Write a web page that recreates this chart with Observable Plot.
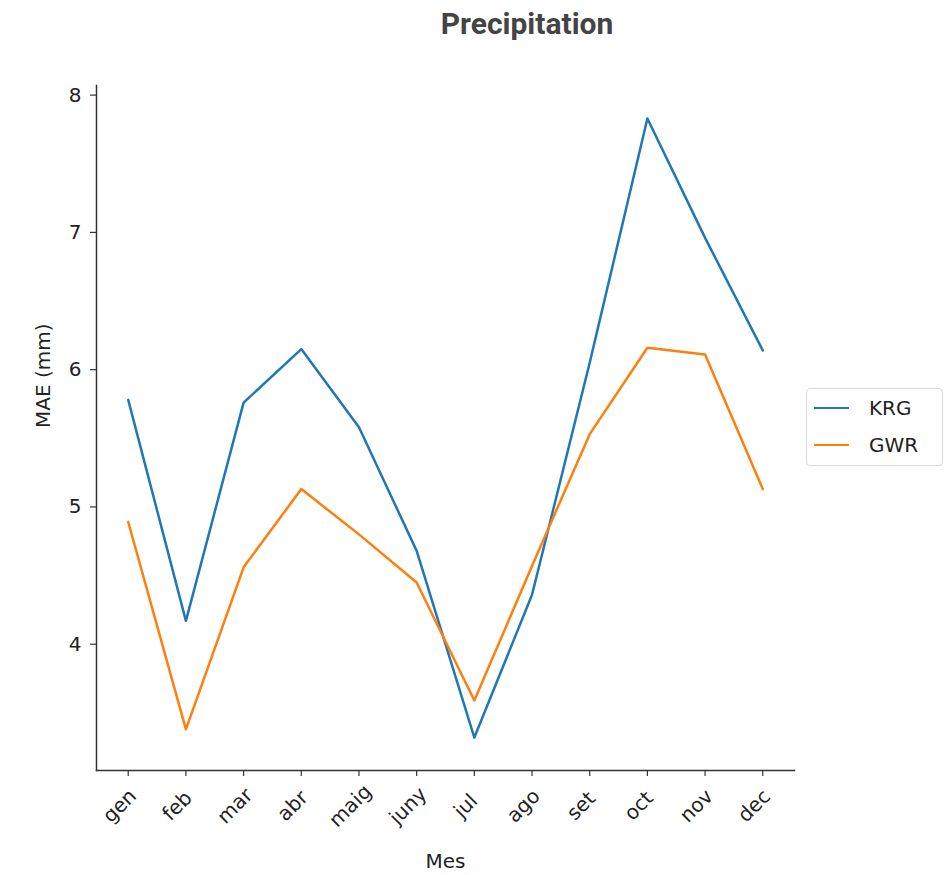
<!DOCTYPE html>
<html>
<head>
<meta charset="utf-8">
<script src="https://cdn.jsdelivr.net/npm/d3@7"></script>
<script src="https://cdn.jsdelivr.net/npm/@observablehq/plot@0.6"></script>
<style>
  html, body { margin: 0; padding: 0; background: #fff; }
  #wrap { position: relative; width: 947px; height: 875px; }
  #title { position: absolute; left: 0; top: 6px; width: 1054px; text-align: center;
           font-family: Roboto, sans-serif; font-weight: 700; font-size: 30px; color: #444; }
  #legend { position: absolute; left: 806px; top: 388px; width: 135px; height: 76px;
            border: 1px solid #d9d9d9; border-radius: 4px; background: #fff;
            font-family: "DejaVu Sans", sans-serif; font-size: 20px; color: #222; }
  .item { position: absolute; left: 7px; display: flex; align-items: center; }
  .swatch { width: 35px; height: 0; border-top: 2.5px solid; margin-right: 20px; }
</style>
</head>
<body>
<div id="wrap">
  <div id="chart"></div>
  <div id="title">Precipitation</div>
  <div id="legend"></div>
</div>
<script>
const months = ["gen","feb","mar","abr","maig","juny","jul","ago","set","oct","nov","dec"];
const seriesNames = ["KRG","GWR"];
const seriesColors = ["#1f77b4","#ff7f0e"];
const krg = [5.78, 4.17, 5.76, 6.15, 5.58, 4.68, 3.32, 4.36, 6.05, 7.83, 6.96, 6.14];
const gwr = [4.89, 3.38, 4.56, 5.13, 4.80, 4.45, 3.59, 4.57, 5.53, 6.16, 6.11, 5.13];
const yTicks = [4, 5, 6, 7, 8];
const xLabel = "Mes";
const yLabel = "MAE (mm)";

const data = [];
months.forEach((m, i) => {
  data.push({month: m, value: krg[i], series: "KRG"});
  data.push({month: m, value: gwr[i], series: "GWR"});
});

const font = "DejaVu Sans, sans-serif";
const fs = 20;
const chart = Plot.plot({
  width: 947,
  height: 875,
  marginLeft: 96,
  marginRight: 153,
  marginTop: 85,
  marginBottom: 105,
  style: {fontFamily: font, fontSize: fs + "px", color: "#222", background: "#fff"},
  x: {type: "point", domain: months, padding: 0.55, align: 0.5, round: false},
  y: {domain: [3.08, 8.07]},
  color: {domain: seriesNames, range: seriesColors},
  marks: [
    Plot.frame({anchor: "left", stroke: "#333", strokeWidth: 1.5}),
    Plot.frame({anchor: "bottom", stroke: "#333", strokeWidth: 1.5}),
    Plot.axisY({ticks: yTicks, tickFormat: d => String(d), tickSize: 6, tickPadding: 9, label: null, stroke: "#333", strokeWidth: 1.2, fontSize: fs}),
    Plot.axisX({tickSize: 6, tickFormat: () => "", label: null, stroke: "#333", strokeWidth: 1.2}),
    Plot.text(months, {x: d => d, frameAnchor: "bottom", rotate: -45, textAnchor: "middle", dy: 40, dx: -4, fontSize: fs, fill: "#222"}),
    Plot.text([xLabel], {frameAnchor: "bottom", dy: 97, fontSize: fs, fill: "#222"}),
    Plot.text([yLabel], {frameAnchor: "left", rotate: -90, dx: -53, fontSize: fs, fill: "#222"}),
    Plot.line(data, {x: "month", y: "value", z: "series", stroke: "series", strokeWidth: 2.5})
  ]
});
document.getElementById("chart").appendChild(chart);

const legend = document.getElementById("legend");
seriesNames.forEach((name, i) => {
  const item = document.createElement("div");
  item.className = "item";
  item.style.top = (7 + i * 37) + "px";
  const sw = document.createElement("span");
  sw.className = "swatch";
  sw.style.borderTopColor = seriesColors[i];
  const label = document.createElement("span");
  label.textContent = name;
  item.appendChild(sw);
  item.appendChild(label);
  legend.appendChild(item);
});
</script>
</body>
</html>
